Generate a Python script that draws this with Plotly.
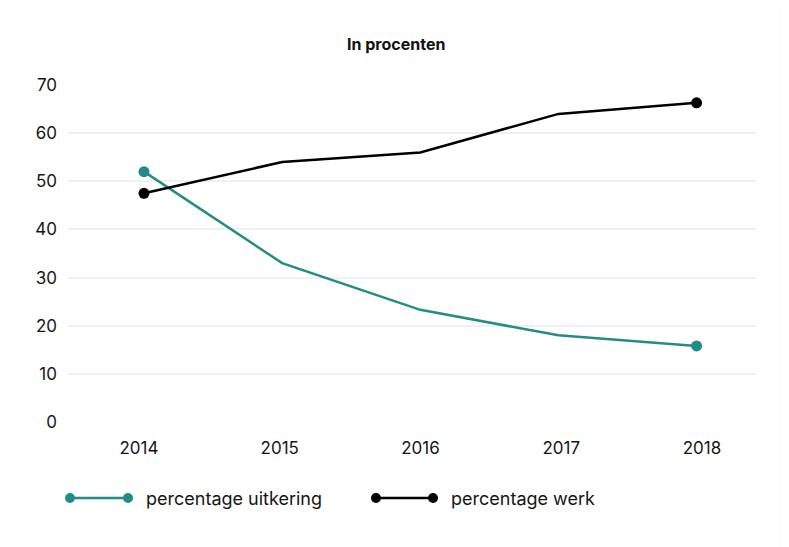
import plotly.graph_objects as go

years = [2014, 2015, 2016, 2017, 2018]
pct_uitkering = [52, 33, 23.3, 18, 15.8]
pct_werk = [47.5, 54, 56, 64, 66.3]
y_ticks = [0, 10, 20, 30, 40, 50, 60, 70]
series_names = ["percentage uitkering", "percentage werk"]
title_text = "In procenten"

TEAL = "#238c89"
BLACK = "#000000"
FONT = "Inter"
TXT = "#151515"

OFF = 8  # page body margin
W, H = 789, 547
L, R, T, B = 68 - OFF, 33 + OFF, 85 - OFF, 125 + OFF
PW, PH = W - L - R, H - T - B

def px_x(px):
    return (px - OFF - L) / PW

def px_y(py):
    return (H - B - (py - OFF)) / PH

fig = go.Figure()
for vals, color in ((pct_uitkering, TEAL), (pct_werk, BLACK)):
    fig.add_trace(go.Scatter(
        x=years, y=vals, mode="lines",
        line=dict(color=color, width=2.5),
        cliponaxis=False, showlegend=False, hoverinfo="skip"))
    fig.add_trace(go.Scatter(
        x=[years[0], years[-1]], y=[vals[0], vals[-1]], mode="markers",
        marker=dict(color=color, size=11, opacity=1, line=dict(width=0)),
        cliponaxis=False, showlegend=False, hoverinfo="skip"))

# carrier for the category label axis (draws nothing)
fig.add_trace(go.Scatter(x=years, y=[None] * len(years), xaxis="x2", yaxis="y",
                         mode="lines", showlegend=False, hoverinfo="skip"))

shapes = [dict(type="rect", xref="paper", yref="paper", layer="below",
               x0=px_x(-10), x1=px_x(780.5), y0=px_y(560), y1=px_y(6),
               fillcolor="white", line=dict(width=0))]
annotations = [dict(text=f"<b>{title_text}</b>", xref="paper", yref="paper",
                    x=px_x(396), y=px_y(44), xanchor="center", yanchor="middle",
                    showarrow=False,
                    font=dict(family=FONT, size=16, color="#111111"))]

legend_items = [(series_names[0], TEAL, 70, 128, 144),
                (series_names[1], BLACK, 376, 433, 449)]
ly = 498
for name, color, x0, x1, tx in legend_items:
    shapes.append(dict(type="line", xref="paper", yref="paper",
                       x0=px_x(x0), x1=px_x(x1), y0=px_y(ly), y1=px_y(ly),
                       line=dict(color=color, width=2.5)))
    for cx in (x0, x1):
        shapes.append(dict(type="circle", xref="paper", yref="paper",
                           x0=px_x(cx - 5), x1=px_x(cx + 5),
                           y0=px_y(ly + 5), y1=px_y(ly - 5),
                           fillcolor=color, line=dict(width=0)))
    annotations.append(dict(text=name, xref="paper", yref="paper",
                            x=px_x(tx), y=px_y(ly), xanchor="left", yanchor="middle",
                            showarrow=False,
                            font=dict(family=FONT, size=18, color=TXT)))

fig.update_layout(
    width=W, height=H,
    margin=dict(l=L, r=R, t=T, b=B),
    paper_bgcolor="#f1f5f9",
    plot_bgcolor="rgba(0,0,0,0)",
    font=dict(family=FONT, size=17, color=TXT),
    shapes=shapes, annotations=annotations,
    xaxis=dict(range=[2013.45, 2018.43], showticklabels=False,
               showgrid=False, zeroline=False, showline=False, ticks=""),
    xaxis2=dict(overlaying="x", side="bottom", range=[2013.4956, 2018.3837],
                tickvals=years, ticktext=[str(y) for y in years],
                showgrid=False, zeroline=False, showline=False, ticks="",
                ticklabelstandoff=14, tickfont=dict(size=17)),
    yaxis=dict(range=[0, 70], tickvals=y_ticks, showgrid=True, gridcolor="#edf1f5",
               gridwidth=1.5, zeroline=False, showline=False, ticks="",
               ticklabelstandoff=10, tickfont=dict(size=17)),
)

fig.write_html("out.html")
